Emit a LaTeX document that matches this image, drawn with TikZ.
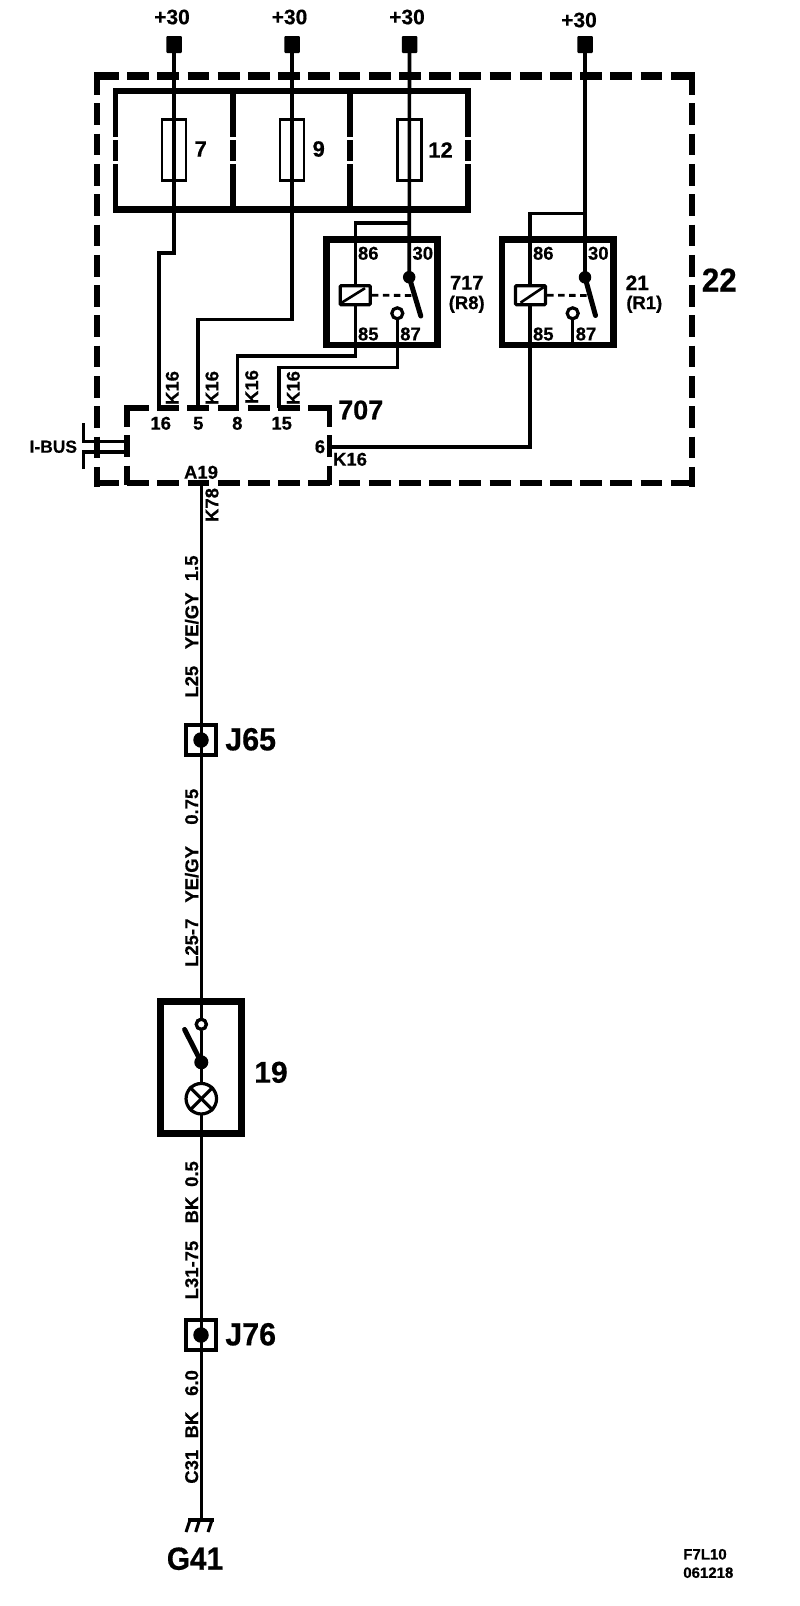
\documentclass[tikz,border=0pt]{standalone}
\usepackage{fontspec}
\setmainfont[BoldFeatures={FakeBold=0.5}]{Liberation Sans}
\newcommand{\fsz}[1]{\fontsize{#1}{#1}\selectfont\bfseries}
\tikzset{
  wire/.style={line width=3.6pt,black},
  thinwire/.style={line width=3.3pt,black},
  fuseedge/.style={line width=5.7pt,black},
  fusebody/.style={draw,line width=2.8pt,fill=none,minimum width=24pt,minimum height=61.5pt,inner sep=0pt},
  term/.style={fill=black,rounded corners=1pt,minimum width=15.5pt,minimum height=17pt,inner sep=0pt},
  tag/.style={inner sep=0pt,outer sep=0pt,font=\fsz{#1}},
  tag/.default=18.5,
  rtag/.style={tag=#1,rotate=90},
  rtag/.default=18.5,
  dashtop/.style={line width=7.8pt,dash pattern=on 21.7pt off 8.5pt},
  dashbot/.style={line width=6.2pt,dash pattern=on 21.7pt off 8.5pt},
  dashside/.style={line width=5.6pt,dash pattern=on 21.7pt off 8.6pt},
  coil/.style={draw,fill=white,line width=3.2pt,rounded corners=1pt,minimum width=30pt,minimum height=19pt,inner sep=0pt},
  pivot/.style={circle,fill=black,minimum size=12.5pt,inner sep=0pt},
  contact/.style={circle,draw,fill=white,line width=3.2pt,minimum size=11pt,inner sep=0pt},
  arm/.style={line width=5pt,line cap=round},
  link/.style={line width=2.8pt,dash pattern=on 6.5pt off 4.5pt},
  splice/.style={draw,line width=4.2pt,minimum size=29.5pt,inner sep=0pt},
  splicedot/.style={circle,fill=black,minimum size=15.5pt,inner sep=0pt},
}
\begin{document}
\begin{tikzpicture}[x=1pt,y=-1pt]
\useasboundingbox (0,0) rectangle (800,1606);
\fill[white] (0,0) rectangle (800,1606);

% fuse carrier
\draw[fuseedge] (113,91) -- (470.7,91);
\draw[line width=6.9pt] (113,209.5) -- (471,209.5);
\foreach \x in {115.5,233,350,468}{
  \draw[fuseedge] (\x,88.5) -- (\x,137);
  \draw[fuseedge] (\x,140) -- (\x,161);
  \draw[fuseedge] (\x,164) -- (\x,212);
}

% outer dashed enclosure 22
\draw[dashtop] (97,76) -- (692,76);
\draw[dashbot] (97,483) -- (692,483);
\draw[dashside] (97,73) -- (97,487);
\draw[dashside] (692,73) -- (692,487);
\fill (94.2,72) rectangle (100,80);
\fill (689.2,72) rectangle (695,80);
\fill (94.2,480) rectangle (100,486.5);
\fill (689.2,480) rectangle (695,486.5);

% module 707
\draw[dashbot] (127,408) -- (329.7,408);
\draw[dashside] (127,405) -- (127,485);
\draw[dashside] (329.5,405) -- (329.5,485);
\fill (124.2,405) rectangle (130,411);
\fill (326.7,405) rectangle (332.3,411);

% relay boxes
\node[draw,line width=6.9pt,minimum width=110.6pt,minimum height=105.5pt,inner sep=0pt] (r717) at (382,292.25) {};
\node[draw,line width=6.9pt,minimum width=111.3pt,minimum height=105.5pt,inner sep=0pt] (r21) at (557.65,292.25) {};

% terminals
\node[term] (t1) at (174,44.5) {};
\node[term] (t2) at (292,44.5) {};
\node[term] (t3) at (409.5,44.5) {};
\node[term] (t4) at (585,44.5) {};

% module pins
\coordinate (p16) at (159,408);
\coordinate (p5) at (198,408);
\coordinate (p8) at (237.3,408);
\coordinate (p15) at (279,408);
\coordinate (p6) at (329.5,446.7);
\coordinate (a19) at (201.3,483);

% relay internals anchors
\node[pivot] (piv717) at (409.2,277.2) {};
\node[pivot] (piv21) at (585,277.3) {};
\coordinate (arm717) at (420.8,316);
\coordinate (arm21) at (595.5,315.5);
\coordinate (c21b) at (572.7,345);
\coordinate (j3) at (409.5,222.7);
\coordinate (j4) at (585,213.3);

% wires
\draw[wire] (t1.south) -- (174,253) -| (p16);
\draw[wire] (t2.south) -- (292,319.3) -| (p5);
\draw[wire] (t3.south) -- (piv717.center);
\draw[wire] (t4.south) -- (piv21.center);
\draw[wire] (j3) -| (355.5,356) -| (p8);
\draw[wire] (j4) -| (530,446.7) -- (p6);
\draw[thinwire] (397.3,313.3) -- (397.3,367.7) -| (p15);
\draw[thinwire] (572.7,313.3) -- (c21b);

% fuses
\node[fusebody] (f7) at (174,150) {};
\node[fusebody] (f9) at (292,150) {};
\node[fusebody] (f12) at (409.7,150) {};

% coils
\node[coil] (coil717) at (355.2,295.2) {};
\node[coil] (coil21) at (530.5,295.2) {};
\draw[line width=2.6pt] (coil717.center) ++(-13.5,7.5) -- ++(23.3,-14.5);
\draw[line width=2.6pt] (coil21.center) ++(-10,7.5) -- ++(23,-15.5);
\draw[link] (coil717.east) -- (415,295.5);
\draw[link] (coil21.east) -- (590.5,295.5);
\draw[arm] (piv717.center) -- (arm717);
\draw[arm] (piv21.center) -- (arm21);
\node[contact] (c717) at (397.3,313.3) {};
\node[contact] (c21) at (572.7,313.3) {};

% I-BUS
\coordinate (bu) at (127,441.3);
\coordinate (bl) at (127,452);
\draw[wire] (83.3,423.3) |- (bu);
\draw[wire] (83.3,469) |- (bl);

% main vertical wire
\coordinate (gnd) at (201.3,1520);
\node[contact,minimum size=10pt] (c19) at (201.3,1024.3) {};
\draw[thinwire] (a19) -- (c19.north);
\draw[thinwire] (c19.south) -- (gnd);
\node[splice] (j65) at (201,740) {};
\node[splicedot] (d65) at (201,740) {};
\node[splice] (j76) at (201,1335) {};
\node[splicedot] (d76) at (201,1335) {};

% component 19
\node[draw,line width=6.9pt,minimum width=81pt,minimum height=131.6pt,inner sep=0pt] (b19) at (201.2,1067.5) {};
\node[pivot,minimum size=14pt] (piv19) at (201.3,1062.3) {};
\coordinate (arm19) at (184.6,1029.5);
\draw[arm] (piv19.center) -- (arm19);
\node[circle,draw,fill=white,line width=3.2pt,minimum size=30.5pt,inner sep=0pt] (lamp) at (201.3,1098.7) {};
\draw[line width=3.2pt] (lamp.north west) -- (lamp.south east);
\draw[line width=3.2pt] (lamp.north east) -- (lamp.south west);
\node[contact,minimum size=10pt] at (201.3,1024.3) {};

% ground
\draw[line width=3.2pt] (188,1520) -- (213.5,1520);
\draw[line width=3pt] (190,1520) -- (186,1532);
\draw[line width=3pt] (199.5,1520) -- (195.7,1532);
\draw[line width=3pt] (212,1520) -- (208,1532);

% labels
\node[tag=21] (l1) at (172,17) {+30};
\node[tag=21] (l2) at (289.5,17) {+30};
\node[tag=21] (l3) at (407,17) {+30};
\node[tag=21] (l4) at (579,20) {+30};
\node[tag=22] (n7) at (200.7,149) {7};
\node[tag=22] (n9) at (318.7,149) {9};
\node[tag=22] (n12) at (440.5,150) {12};
\node[tag] (r86a) at (368.3,253.3) {86};
\node[tag] (r30a) at (422.8,253.3) {30};
\node[tag] (r85a) at (368.3,334) {85};
\node[tag] (r87a) at (410.5,334) {87};
\node[tag] (r86b) at (543.3,253.3) {86};
\node[tag] (r30b) at (598.3,253.3) {30};
\node[tag] (r85b) at (543.3,334) {85};
\node[tag] (r87b) at (586,334) {87};
\node[tag=20] (n717) at (466.7,282.7) {717};
\node[tag] (nr8) at (466.7,304.3) {(R8)};
\node[tag=21] (n21) at (637.3,282.7) {21};
\node[tag] (nr1) at (644.3,304.3) {(R1)};
\node[tag=33,xscale=.95] (n22) at (719.3,280) {22};
\node[rtag] (k1) at (172.3,388) {K16};
\node[rtag] (k2) at (212,388) {K16};
\node[rtag] (k3) at (251.7,387) {K16};
\node[rtag] (k4) at (293.3,388) {K16};
\node[rtag] (k78) at (212,505) {K78};
\node[tag] (m16) at (160.7,423.3) {16};
\node[tag] (m5) at (198.3,423.3) {5};
\node[tag] (m8) at (237.3,423.3) {8};
\node[tag] (m15) at (281.7,423.3) {15};
\node[tag] (m6) at (320,446.7) {6};
\node[tag] (k6) at (350,459.3) {K16};
\node[tag=27] (n707) at (360.7,410) {707};
\node[tag] (ma19) at (201,472.3) {A19};
\node[tag=17.4] (ibus) at (53.3,446.7) {I-BUS};
\node[rtag] (w1) at (191.7,568.3) {1.5};
\node[rtag] (w2) at (191.7,620.8) {YE/GY};
\node[rtag] (w3) at (191.7,681.7) {L25};
\node[rtag] (w4) at (191.7,806.7) {0.75};
\node[rtag] (w5) at (191.7,874.3) {YE/GY};
\node[rtag] (w6) at (191.7,942.7) {L25-7};
\node[rtag] (w7) at (191.7,1174) {0.5};
\node[rtag] (w8) at (191.7,1210) {BK};
\node[rtag] (w9) at (191.7,1270) {L31-75};
\node[rtag] (w10) at (191.7,1383) {6.0};
\node[rtag] (w11) at (191.7,1425) {BK};
\node[rtag] (w12) at (191.7,1466.7) {C31};
\node[tag=32,xscale=.95] (nj65) at (250.7,739.3) {J65};
\node[tag=32,xscale=.95] (nj76) at (250.7,1334.3) {J76};
\node[tag=30] (n19) at (271,1072.3) {19};
\node[tag=32,xscale=.93] (g41) at (195,1558.7) {G41};
\node[tag=15,anchor=west] (f7l) at (683.3,1554.3) {F7L10};
\node[tag=15,anchor=west] (dat) at (683.3,1572.7) {061218};
\end{tikzpicture}
\end{document}
